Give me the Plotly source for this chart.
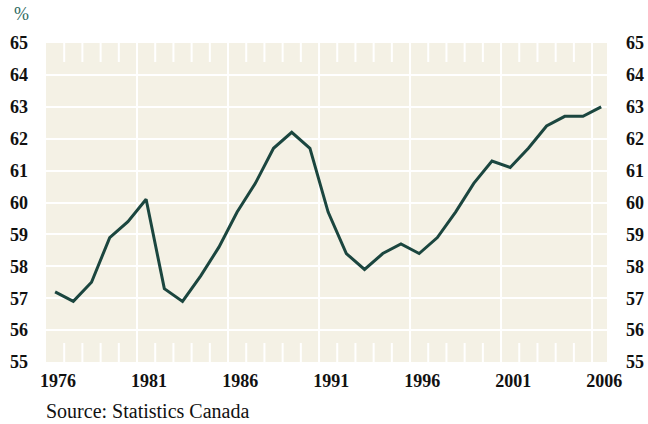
import plotly.graph_objects as go

years = list(range(1976, 2007))
rate = [57.2, 56.9, 57.5, 58.9, 59.4, 60.1, 57.3, 56.9, 57.7, 58.6,
        59.7, 60.6, 61.7, 62.2, 61.7, 59.7, 58.4, 57.9, 58.4, 58.7,
        58.4, 58.9, 59.7, 60.6, 61.3, 61.1, 61.7, 62.4, 62.7, 62.7,
        63.0]
x_tick_vals = [1976, 1981, 1986, 1991, 1996, 2001, 2006]
x_tick_text = [str(v) for v in x_tick_vals]
y_tick_vals = list(range(55, 66))
y_tick_text = [str(v) for v in y_tick_vals]
v_grid = [1980.5, 1985.5, 1990.5, 1995.5, 2000.5, 2005.5]
minor_ticks = [y + 0.5 for y in range(1976, 2006)]
source_text = "Source: Statistics Canada"
unit_text = "%"

X_RANGE = [1975.5, 2006.32]
Y_RANGE = [55, 65]
BG = "#f4f1e5"
LINE = "#1b463f"
FONT = "Liberation Serif"

fig = go.Figure()
fig.add_trace(go.Scatter(x=years, y=rate, mode="lines",
                         line=dict(color=LINE, width=3),
                         showlegend=False, hoverinfo="skip"))
fig.add_trace(go.Scatter(x=years, y=rate, mode="lines", yaxis="y2",
                         line=dict(color="rgba(0,0,0,0)", width=0),
                         showlegend=False, hoverinfo="skip"))

for gx in v_grid:
    fig.add_shape(type="line", xref="x", yref="paper", x0=gx, x1=gx, y0=0, y1=1,
                  line=dict(color="white", width=2), layer="below")

for mx in minor_ticks:
    if mx in v_grid:
        continue
    fig.add_shape(type="line", xref="x", yref="y", ysizemode="pixel",
                  yanchor=Y_RANGE[0], x0=mx, x1=mx, y0=0, y1=19,
                  line=dict(color="white", width=2), layer="below")
    fig.add_shape(type="line", xref="x", yref="y", ysizemode="pixel",
                  yanchor=Y_RANGE[1], x0=mx, x1=mx, y0=0, y1=-19,
                  line=dict(color="white", width=2), layer="below")

tick_font = dict(family=FONT, size=18, color="#111111", weight="bold")

fig.update_layout(
    width=648, height=424,
    margin=dict(l=46, r=41, t=43, b=62, autoexpand=False),
    paper_bgcolor="white",
    plot_bgcolor=BG,
    xaxis=dict(range=X_RANGE, tickmode="array", tickvals=x_tick_vals, ticktext=x_tick_text,
               showgrid=False, zeroline=False, showline=False, ticks="",
               tickfont=tick_font, ticklabelstandoff=6, ticklabelshift=3,
               automargin=False),
    yaxis=dict(range=Y_RANGE, tickmode="array", tickvals=y_tick_vals, ticktext=y_tick_text,
               showgrid=True, gridcolor="white", gridwidth=2, zeroline=False,
               showline=False, ticks="", tickfont=tick_font, ticklabelstandoff=17,
               automargin=False),
    yaxis2=dict(range=Y_RANGE, overlaying="y", side="right", tickmode="array",
                tickvals=y_tick_vals, ticktext=y_tick_text, showgrid=False,
                zeroline=False, showline=False, ticks="", tickfont=tick_font,
                ticklabelstandoff=18, automargin=False),
    annotations=[
        dict(text=unit_text, xref="paper", yref="paper", x=-0.061, y=1.09,
             xanchor="left", yanchor="middle", showarrow=False,
             font=dict(family=FONT, size=18, color="#2f6a5f")),
        dict(text=source_text, xref="paper", yref="paper", x=-0.003, y=-0.153,
             xanchor="left", yanchor="middle", showarrow=False,
             font=dict(family=FONT, size=20, color="#111111")),
    ],
)

fig.write_html("out.html", config={"displayModeBar": False},
               post_script="document.body.style.margin='0';")
